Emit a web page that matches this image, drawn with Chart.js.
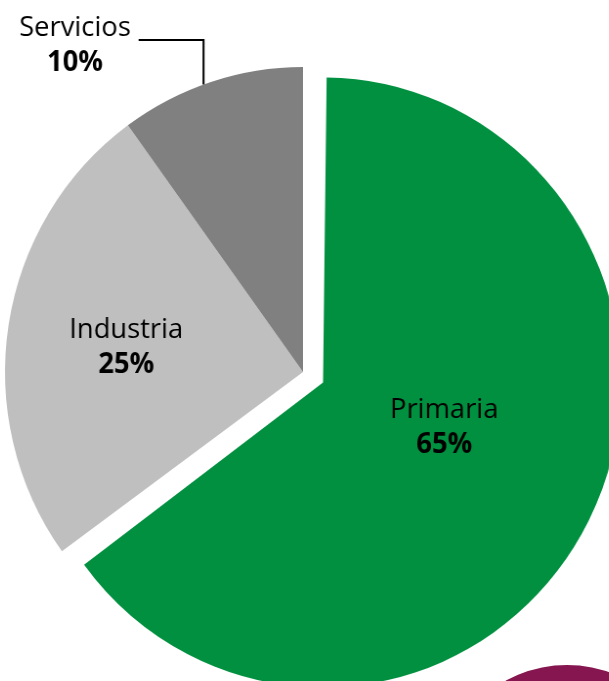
<!DOCTYPE html>
<html>
<head>
<meta charset="utf-8">
<script src="https://cdn.jsdelivr.net/npm/chart.js@4"></script>
<style>
  html, body { margin: 0; padding: 0; background: #fff; }
  body { width: 609px; height: 681px; overflow: hidden; position: relative; }
  /* the source picture is a touch narrower than tall */
  #main { position: absolute; left: -97px; top: -28px; width: 800px; height: 800px;
          transform-origin: 400px 400px; transform: scaleX(0.977); }
  #next { position: absolute; left: 417px; top: 643px; width: 300px; height: 300px; }
</style>
</head>
<body>
<div id="main"><canvas id="pie"></canvas></div>
<div id="next"><canvas id="pie2"></canvas></div>
<script>
const categories = ['Primaria', 'Industria', 'Servicios']
const shares = [65, 25, 10]
const sliceColors = ['#00903f', '#bfbfbf', '#808080']
const FONT = '"Open Sans", "Noto Sans", sans-serif'

// label placement: radial fraction + angle (deg, clockwise from top) per slice
const labelLayout = [
  {inside: true, frac: 0.43, angle: 109},
  {inside: true, frac: 0.6, angle: 278.5},
  {inside: false, angle: 340.5, textX: 75, lineY: 40, gap: 8},
]

// v4 grows an exploded arc's radius by offset / 4; pull it back so all slices match
const keepRadius = {
  id: 'keepRadius',
  afterDatasetUpdate(chart, args) {
    args.meta.data.forEach((arc) => {
      const off = (arc.options.offset || 0) / 4
      if (off) arc.outerRadius -= off
    })
  },
}

const sliceLabels = {
  id: 'sliceLabels',
  afterDatasetsDraw(chart) {
    const ctx = chart.ctx
    const meta = chart.getDatasetMeta(0)
    const box = chart.canvas.getBoundingClientRect()
    const sx = chart.width / box.width
    const sy = chart.height / box.height

    meta.data.forEach((arc, i) => {
      const p = arc.getProps(['x', 'y', 'startAngle', 'endAngle', 'outerRadius'], true)
      const mid = (p.startAngle + p.endAngle) / 2
      const off = (arc.options.offset || 0) / 4
      const cx = p.x + Math.cos(mid) * off
      const cy = p.y + Math.sin(mid) * off
      const radius = p.outerRadius + off
      const lay = labelLayout[i]
      const a = lay.angle * Math.PI / 180 - Math.PI / 2

      ctx.save()
      ctx.fillStyle = '#000'
      ctx.textAlign = 'center'
      ctx.textBaseline = 'middle'

      if (lay.inside) {
        const r = radius * lay.frac
        const x = cx + Math.cos(a) * r
        const y = cy + Math.sin(a) * r
        ctx.font = '28px ' + FONT
        ctx.fillText(categories[i], x, y - 15)
        ctx.font = 'bold 28px ' + FONT
        ctx.fillText(shares[i] + '%', x, y + 20)
      } else {
        // leader line from the slice edge up and to the left
        const ex = cx + Math.cos(a) * radius
        const ey = cy + Math.sin(a) * radius
        const ly = (lay.lineY - box.top) * sy
        const tx = (lay.textX - box.left) * sx
        ctx.font = '28px ' + FONT
        const w = ctx.measureText(categories[i]).width
        ctx.strokeStyle = '#000'
        ctx.lineWidth = 2
        ctx.beginPath()
        ctx.moveTo(ex, ey)
        ctx.lineTo(ex, ly)
        ctx.lineTo(tx + w / 2 + lay.gap, ly)
        ctx.stroke()
        ctx.fillText(categories[i], tx, ly - 12)
        ctx.font = 'bold 28px ' + FONT
        ctx.fillText(shares[i] + '%', tx, ly + 23)
      }
      ctx.restore()
    })
  },
}

new Chart(document.getElementById('pie'), {
  type: 'pie',
  data: {
    labels: categories,
    datasets: [{
      data: shares,
      backgroundColor: sliceColors,
      borderWidth: 0,
      offset: [92, 0, 0],
    }],
  },
  options: {
    responsive: true,
    maintainAspectRatio: false,
    animation: false,
    events: [],
    radius: 305,
    layout: {padding: 0},
    plugins: {
      legend: {display: false},
      tooltip: {enabled: false},
    },
  },
  plugins: [keepRadius, sliceLabels],
})

// edge of the neighbouring chart peeking in at the bottom right
new Chart(document.getElementById('pie2'), {
  type: 'pie',
  data: {
    labels: ['otro'],
    datasets: [{data: [100], backgroundColor: ['#861650'], borderWidth: 0}],
  },
  options: {
    responsive: true,
    maintainAspectRatio: false,
    animation: false,
    events: [],
    radius: 128,
    plugins: {legend: {display: false}, tooltip: {enabled: false}},
  },
})
</script>
</body>
</html>
